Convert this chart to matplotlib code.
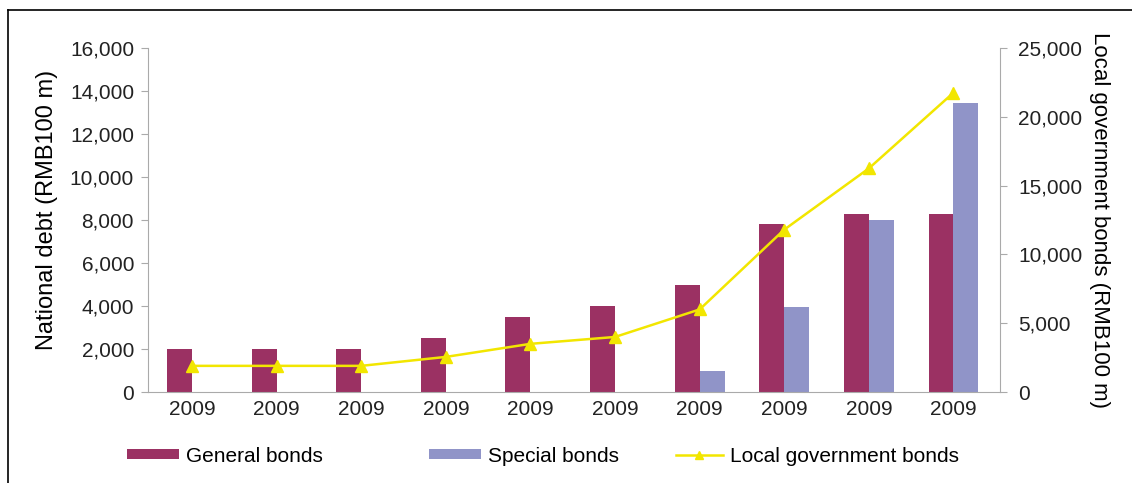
import matplotlib.pyplot as plt
import numpy as np
from matplotlib.lines import Line2D
from matplotlib.ticker import FuncFormatter

plt.rcParams['font.family'] = ['Liberation Sans', 'DejaVu Sans']

years = ['2009'] * 10
general = [2000, 2000, 2000, 2500, 3500, 4000, 5000, 7800, 8300, 8300]
special = [0, 0, 0, 0, 0, 0, 1000, 3950, 8000, 13450]
local = [1900, 1900, 1900, 2550, 3500, 4000, 6000, 11800, 16250, 21750]

fmt = FuncFormatter(lambda v, p: f'{v:,.0f}')
x = np.arange(len(years))
w = 0.295
fs = 15

fig = plt.figure(figsize=(11.32, 4.83), dpi=100)
ax = fig.add_axes([148 / 1132, 1 - 392 / 483, 852 / 1132, 344 / 483])

b1 = ax.bar(x - w / 2, general, w, color='#9b3163', label='General bonds')
b2 = ax.bar(x + w / 2, special, w, color='#9094c8', label='Special bonds')
ax.set_xlim(-0.52, 9.55)
ax.set_ylim(0, 16000)
ax.set_yticks(range(0, 16001, 2000))
ax.yaxis.set_major_formatter(fmt)
ax.set_xticks(x)
ax.set_xticklabels(years)
ax.set_ylabel('National debt (RMB100 m)', fontsize=17)
ax.yaxis.set_label_coords(-0.106, 0.53)

ax2 = ax.twinx()
l1, = ax2.plot(x, local, color='#f2e600', lw=1.8, marker='^', ms=8,
               label='Local government bonds')
ax2.set_ylim(0, 25000)
ax2.set_yticks(range(0, 25001, 5000))
ax2.yaxis.set_major_formatter(fmt)
ax2.set_ylabel('Local government bonds (RMB100 m)', fontsize=16,
               rotation=270, labelpad=20)

for a in (ax, ax2):
    a.spines['top'].set_visible(False)
    a.tick_params(labelsize=fs, colors='#222222', length=5, color='#aaaaaa')
    a.tick_params(axis='x', length=0, pad=6)
ax.spines['right'].set_visible(False)
ax2.spines['left'].set_visible(False)
ax2.spines['bottom'].set_visible(False)
for s in ['left', 'bottom']:
    ax.spines[s].set_color('#aaaaaa')
ax2.spines['right'].set_color('#aaaaaa')
ax.tick_params(axis='y', pad=5)
ax2.tick_params(axis='y', pad=8)

handles = [b1, b2, l1]
names = ['General bonds', 'Special bonds', 'Local government bonds']
starts = [127, 429, 676]
lens = [2.5, 2.5, 2.25]
for h, n, s, hl in zip(handles, names, starts, lens):
    fig.legend([h], [n], loc='center left', bbox_to_anchor=(s / 1132, 1 - 456 / 483),
               frameon=False, fontsize=fs, handlelength=hl, handleheight=0.4,
               handletextpad=0.35, borderpad=0, borderaxespad=0, markerscale=0.8)

fig.add_artist(Line2D([8 / 1132, 8 / 1132], [0, 1 - 10 / 483], color='black', lw=1.2))
fig.add_artist(Line2D([8 / 1132, 1], [1 - 10 / 483, 1 - 10 / 483], color='black', lw=1.2))

fig.savefig('out.png', dpi=100)
